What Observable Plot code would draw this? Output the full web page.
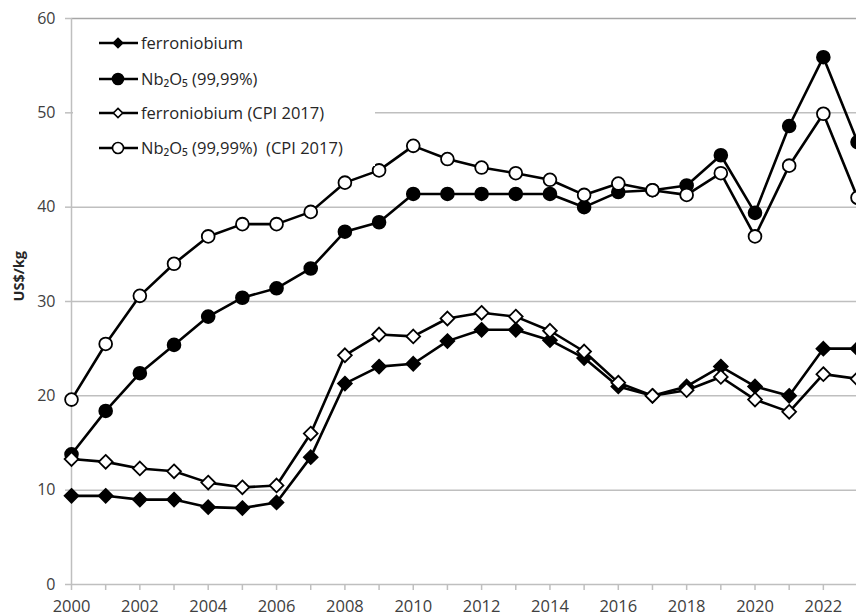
<!DOCTYPE html>
<html>
<head>
<meta charset="utf-8">
<script src="https://cdn.jsdelivr.net/npm/d3@7"></script>
<script src="https://cdn.jsdelivr.net/npm/@observablehq/plot@0.6"></script>
<style>
  body { margin: 0; background: white; }
  #wrap { position: relative; width: 856px; height: 616px; overflow: hidden; }
  #legend { position: absolute; left: 0; top: 0; }
</style>
</head>
<body>
<div id="wrap"></div>
<script>
const years = d3.range(2000, 2024);
const evenYears = d3.range(2000, 2024, 2);
const yTicks = [0, 10, 20, 30, 40, 50, 60];
const seriesNames = ["ferroniobium", "Nb₂O₅ (99,99%)", "ferroniobium (CPI 2017)", "Nb₂O₅ (99,99%)\u00a0 (CPI 2017)"];
const ferroniobium = [9.4, 9.4, 9.0, 9.0, 8.2, 8.1, 8.7, 13.5, 21.3, 23.1, 23.4, 25.8, 27.0, 27.0, 25.9, 24.0, 21.0, 20.0, 21.0, 23.1, 21.0, 20.0, 25.0, 25.0];
const nb2o5 = [13.8, 18.4, 22.4, 25.4, 28.4, 30.4, 31.4, 33.5, 37.4, 38.4, 41.4, 41.4, 41.4, 41.4, 41.4, 40.0, 41.6, 41.8, 42.3, 45.5, 39.4, 48.6, 55.9, 46.9];
const ferroCPI = [13.3, 13.0, 12.3, 12.0, 10.8, 10.3, 10.5, 16.0, 24.3, 26.5, 26.3, 28.2, 28.8, 28.4, 26.9, 24.7, 21.4, 20.0, 20.6, 22.0, 19.6, 18.3, 22.3, 21.8];
const nb2o5CPI = [19.6, 25.5, 30.6, 34.0, 36.9, 38.2, 38.2, 39.5, 42.6, 43.9, 46.5, 45.1, 44.2, 43.6, 42.9, 41.3, 42.5, 41.8, 41.3, 43.6, 36.9, 44.4, 49.9, 41.0];

const seriesValues = [ferroniobium, nb2o5, ferroCPI, nb2o5CPI];
const seriesSymbol = ["diamond2", "circle", "diamond2", "circle"];
const seriesFill = ["black", "black", "white", "white"];

const rows = [];
seriesValues.forEach((vals, i) => vals.forEach((v, j) => rows.push({series: seriesNames[i], year: years[j], value: v, i})));

const ink = "#262626";
const grid = "#bfbfbf";

const marks = [
  Plot.ruleY(yTicks.filter(t => t < 60), {stroke: grid, strokeWidth: 1.5}),
  Plot.ruleY([60], {stroke: "#a6a6a6", strokeWidth: 1.6}),
  Plot.ruleX([2000], {y1: 0, y2: 60, stroke: grid, strokeWidth: 1.5}),
  Plot.axisX({ticks: years, tickSize: 6, stroke: grid, strokeWidth: 1.5, tickFormat: () => "", label: null}),
  Plot.axisX({ticks: evenYears, tickSize: 0, tickPadding: 16, tickFormat: d => String(d), fontSize: 16.5, fill: "#404040", label: null}),
  Plot.axisY({ticks: yTicks, tickSize: 6, tickPadding: 10, stroke: grid, strokeWidth: 1.5, tickFormat: d => String(d), fontSize: 16, fill: "#404040", label: null}),
  Plot.text(["US$/kg"], {frameAnchor: "left", dx: -52, dy: 0, rotate: -90, fontWeight: "bold", fontSize: 14.5, fill: ink})
];
seriesNames.forEach((name, i) => {
  const data = rows.filter(d => d.i === i);
  marks.push(Plot.line(data, {x: "year", y: "value", stroke: "black", strokeWidth: 2.6}));
});
seriesNames.forEach((name, i) => {
  const data = rows.filter(d => d.i === i);
  marks.push(Plot.dot(data, {x: "year", y: "value", symbol: () => seriesSymbol[i], r: i % 2 === 0 ? 6.2 : 6.4, fill: seriesFill[i], stroke: "black", strokeWidth: 1.8}));
});

const chart = Plot.plot({
  width: 856, height: 616,
  marginLeft: 71, marginTop: 18, marginBottom: 32, marginRight: 0,
  style: {fontFamily: "Open Sans", background: "white", color: "#404040"},
  x: {domain: [2000, 2022.97]},
  y: {domain: [0, 60]},
  symbol: {type: "identity"},
  marks
});
const wrap = document.getElementById("wrap");
wrap.appendChild(chart);

// legend overlay (white box hides the gridline behind it, as in the reference)
const lg = d3.select(wrap).append("svg").attr("id", "legend").attr("width", 420).attr("height", 180)
  .style("font-family", "Open Sans").style("font-size", "16.5px");
lg.append("rect").attr("x", 73).attr("y", 24).attr("width", 302).attr("height", 142).attr("fill", "white");
const rowY = [43, 79, 113, 148];
seriesNames.forEach((name, i) => {
  const g = lg.append("g").attr("transform", `translate(0,${rowY[i]})`);
  g.append("line").attr("x1", 99).attr("x2", 138).attr("stroke", "black").attr("stroke-width", 2.6);
  const sym = seriesSymbol[i] === "circle" ? d3.symbolCircle : d3.symbolDiamond2;
  const size = seriesSymbol[i] === "circle" ? 95 : 55;
  g.append("path").attr("d", d3.symbol(sym, size)()).attr("transform", "translate(118,0)")
    .attr("fill", seriesFill[i]).attr("stroke", "black").attr("stroke-width", 1.6);
  g.append("text").attr("x", 141).attr("dy", "0.35em").attr("fill", ink).text(name);
});
</script>
</body>
</html>
